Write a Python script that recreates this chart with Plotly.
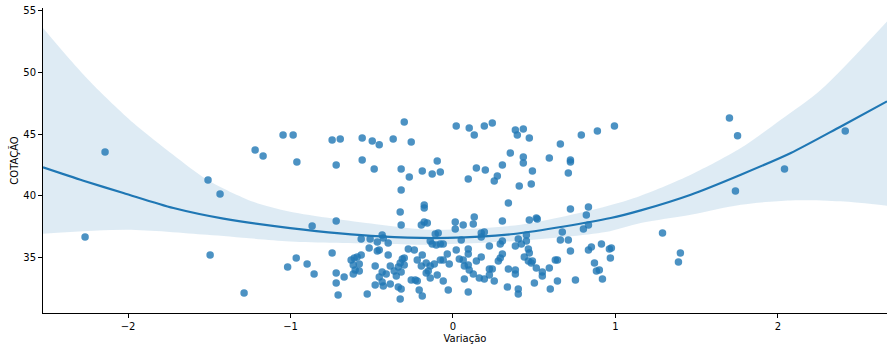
import plotly.graph_objects as go

variacao = [
    -2.265, -2.142, -1.508, -1.495, -1.434, -1.286, -1.218, -1.169, -1.046, -0.984,
    -0.961, -1.018, -0.965, -0.898, -0.855, -0.867, -0.744, -0.694, -0.559, -0.497,
    -0.454, -0.719, -0.559, -0.485, -0.719, -0.565, -0.510, -0.466, -0.516, -0.466,
    -0.744, -0.627, -0.608, -0.590, -0.565, -0.614, -0.577, -0.602, -0.577, -0.614,
    -0.479, -0.719, -0.670, -0.719, -0.454, -0.479, -0.528, -0.707,
    -0.300, -0.368, -0.257, -0.319, -0.269, -0.189, -0.128, -0.078, -0.097, -0.319,
    -0.325, -0.177, -0.177, -0.319, -0.177, -0.158, -0.195, -0.436, -0.429, -0.399,
    -0.454, -0.399, -0.275, -0.238, -0.312, -0.300, -0.325, -0.300, -0.386, -0.337,
    -0.220, -0.189, -0.195, -0.165, -0.140, -0.115, -0.078, -0.060, -0.035, -0.023,
    -0.109, -0.091, -0.140, -0.128, -0.103, -0.078, -0.060, -0.436, -0.411, -0.362,
    -0.349, -0.319, -0.436, -0.429, -0.386, -0.337, -0.319, -0.257, -0.232, -0.220,
    -0.208, -0.189, -0.325, -0.165, -0.152, -0.140, -0.097, -0.060, -0.029,
    0.020, 0.100, 0.131, 0.193, 0.242, 0.384, 0.396, 0.353, 0.144, 0.199,
    0.304, 0.273, 0.254, 0.094, 0.408, 0.341, 0.304, 0.131, 0.125, 0.014,
    0.014, 0.063, 0.174, 0.193, 0.174, 0.051, 0.304, 0.291, 0.224, 0.384,
    0.402, 0.094, 0.094, 0.020, 0.039, 0.063, 0.144, 0.174, 0.304, 0.291,
    0.279, 0.070, 0.094, 0.100, 0.125, 0.162, 0.193, 0.224, 0.242, 0.224,
    0.254, 0.341, 0.384, 0.384, 0.070, 0.094, 0.335, 0.402, 0.402,
    0.433, 0.470, 0.661, 0.790, 0.889, 0.433, 0.433, 0.593, 0.723, 0.723,
    0.710, 0.489, 0.482, 0.723, 0.834, 0.821, 0.513, 0.519, 0.470, 0.803,
    0.834, 0.673, 0.661, 0.710, 0.452, 0.452, 0.421, 0.464, 0.470, 0.439,
    0.464, 0.482, 0.489, 0.513, 0.550, 0.550, 0.593, 0.630, 0.643, 0.723,
    0.834, 0.852, 0.871, 0.883, 0.901, 0.501, 0.643, 0.754, 0.599,
    0.994, 1.290, 0.914, 0.963, 0.975, 0.969, 0.920, 1.400, 1.388,
    1.702, 1.752, 1.739, 2.041, 2.415,
]
cotacao = [
    36.68, 43.56, 41.29, 35.22, 40.16, 32.14, 43.72, 43.24, 44.94, 44.94,
    42.75, 34.25, 34.98, 34.49, 33.68, 37.57, 44.53, 44.61, 44.69, 44.45,
    44.15, 42.51, 42.91, 42.18, 37.97, 36.51, 36.51, 36.27, 35.79, 35.54,
    35.38, 34.81, 34.98, 35.06, 35.22, 34.41, 34.49, 34.00, 33.92, 33.68,
    34.33, 33.76, 33.44, 32.95, 33.44, 32.79, 32.06, 31.98,
    45.99, 44.61, 44.37, 42.18, 41.53, 42.02, 41.78, 41.94, 42.83, 40.48,
    38.70, 39.27, 39.02, 37.65, 37.89, 37.81, 37.65, 36.84, 36.60, 36.19,
    35.62, 35.22, 35.70, 35.62, 34.89, 34.98, 34.57, 34.41, 34.33, 34.25,
    34.81, 35.22, 34.33, 34.57, 34.33, 34.49, 34.81, 34.81, 35.30, 34.49,
    36.92, 37.00, 36.35, 36.11, 36.03, 36.11, 36.11, 33.84, 33.68, 33.92,
    33.52, 33.84, 33.03, 32.71, 32.87, 32.63, 32.47, 33.19, 33.19, 33.11,
    32.38, 31.90, 31.66, 33.76, 33.92, 33.36, 33.60, 33.11, 32.38,
    45.66, 45.50, 44.94, 45.66, 45.91, 45.34, 44.94, 43.48, 42.26, 42.10,
    42.51, 41.62, 41.21, 41.37, 40.81, 39.43, 37.97, 38.30, 37.73, 37.89,
    37.32, 37.65, 37.00, 37.08, 36.68, 36.43, 36.35, 36.11, 35.95, 35.95,
    36.51, 35.70, 35.30, 35.62, 34.89, 34.81, 34.73, 35.06, 35.30, 34.98,
    34.73, 34.33, 34.41, 34.00, 33.68, 33.36, 33.28, 34.08, 34.08, 33.60,
    33.11, 34.08, 34.00, 33.68, 33.28, 32.22, 32.63, 32.47, 32.06,
    45.42, 44.69, 44.21, 44.94, 45.26, 43.15, 42.67, 43.07, 42.91, 42.75,
    41.86, 42.02, 40.97, 38.94, 39.11, 38.46, 38.21, 38.13, 38.05, 37.32,
    37.65, 37.08, 36.43, 36.43, 36.84, 36.35, 36.11, 35.70, 35.38, 35.06,
    34.73, 34.57, 34.73, 34.17, 33.84, 33.52, 34.17, 34.81, 34.81, 35.54,
    35.62, 35.87, 34.57, 33.92, 34.00, 32.95, 33.11, 33.19, 32.47,
    45.66, 37.00, 36.11, 35.70, 35.79, 34.98, 33.28, 35.38, 34.65,
    46.31, 44.88, 40.40, 42.18, 45.26,
]

# Quadratic regression line
fit_x = [-2.524, -2.275, -2.029, -1.721, -1.413, -1.002, -0.447, -0.034,
         0.373, 0.971, 1.156, 1.464, 1.772, 2.080, 2.388, 2.672]
fit_y = [42.31, 41.23, 40.24, 39.02, 38.16, 37.40, 36.72, 36.60,
         36.92, 38.21, 38.83, 40.10, 41.72, 43.48, 45.63, 47.66]

# 95% confidence band edges
ci_upper_x = [-2.524, -2.357, -2.216, -1.969, -1.723, -1.513, -1.230, -1.002,
              -0.447, -0.139, 0.416, 0.940, 1.156, 1.464, 1.772, 2.018, 2.265, 2.672]
ci_upper_y = [53.60, 51.03, 49.01, 45.93, 43.34, 41.32, 39.53, 38.72,
              37.67, 37.27, 37.67, 39.15, 40.02, 41.72, 43.88, 46.17, 48.60, 54.13]
ci_lower_x = [-2.524, -2.006, -1.513, -1.002, -0.447, -0.139, 0.416, 0.940,
              1.156, 1.464, 1.772, 2.080, 2.388, 2.672]
ci_lower_y = [36.94, 37.27, 36.86, 36.32, 36.13, 36.05, 36.38, 37.08,
              37.81, 38.48, 39.29, 39.64, 39.56, 39.21]

x_range = [-2.524, 2.672]
y_range = [30.52, 55.22]

blue = "#1f77b4"
band_fill = "rgba(31,119,180,0.15)"

fig = go.Figure()
fig.add_trace(go.Scatter(
    x=ci_lower_x, y=ci_lower_y, mode="lines",
    line=dict(width=0, shape="spline", smoothing=0.8),
    hoverinfo="skip", showlegend=False,
))
fig.add_trace(go.Scatter(
    x=ci_upper_x, y=ci_upper_y, mode="lines", fill="tonexty", fillcolor=band_fill,
    line=dict(width=0, shape="spline", smoothing=0.8),
    hoverinfo="skip", showlegend=False,
))
fig.add_trace(go.Scatter(
    x=variacao, y=cotacao, mode="markers",
    marker=dict(size=7.5, color="rgba(31,119,180,0.8)", line=dict(width=0)),
    showlegend=False,
))
fig.add_trace(go.Scatter(
    x=fit_x, y=fit_y, mode="lines",
    line=dict(color=blue, width=2.2, shape="spline", smoothing=0.8),
    showlegend=False,
))

axis_common = dict(
    showgrid=False, zeroline=False, showline=True, linecolor="black", linewidth=1,
    ticks="outside", ticklen=4, tickwidth=1, tickcolor="black",
    tickfont=dict(family="DejaVu Sans", size=10, color="black"),
    mirror=False,
)
fig.update_xaxes(range=x_range, tickvals=[-2, -1, 0, 1, 2],
                 ticktext=["\u22122", "\u22121", "0", "1", "2"],
                 title=dict(text="Variação", standoff=3,
                            font=dict(family="DejaVu Sans", size=10, color="black")),
                 **axis_common)
fig.update_yaxes(range=y_range, tickvals=[35, 40, 45, 50, 55],
                 title=dict(text="COTAÇÃO", standoff=2,
                            font=dict(family="DejaVu Sans", size=10, color="black")),
                 **axis_common)
fig.update_layout(
    width=892, height=351,
    margin=dict(l=43, r=5, t=8, b=38),
    plot_bgcolor="white", paper_bgcolor="white",
    font=dict(family="DejaVu Sans", size=10, color="black"),
)
fig.write_html("out.html")
